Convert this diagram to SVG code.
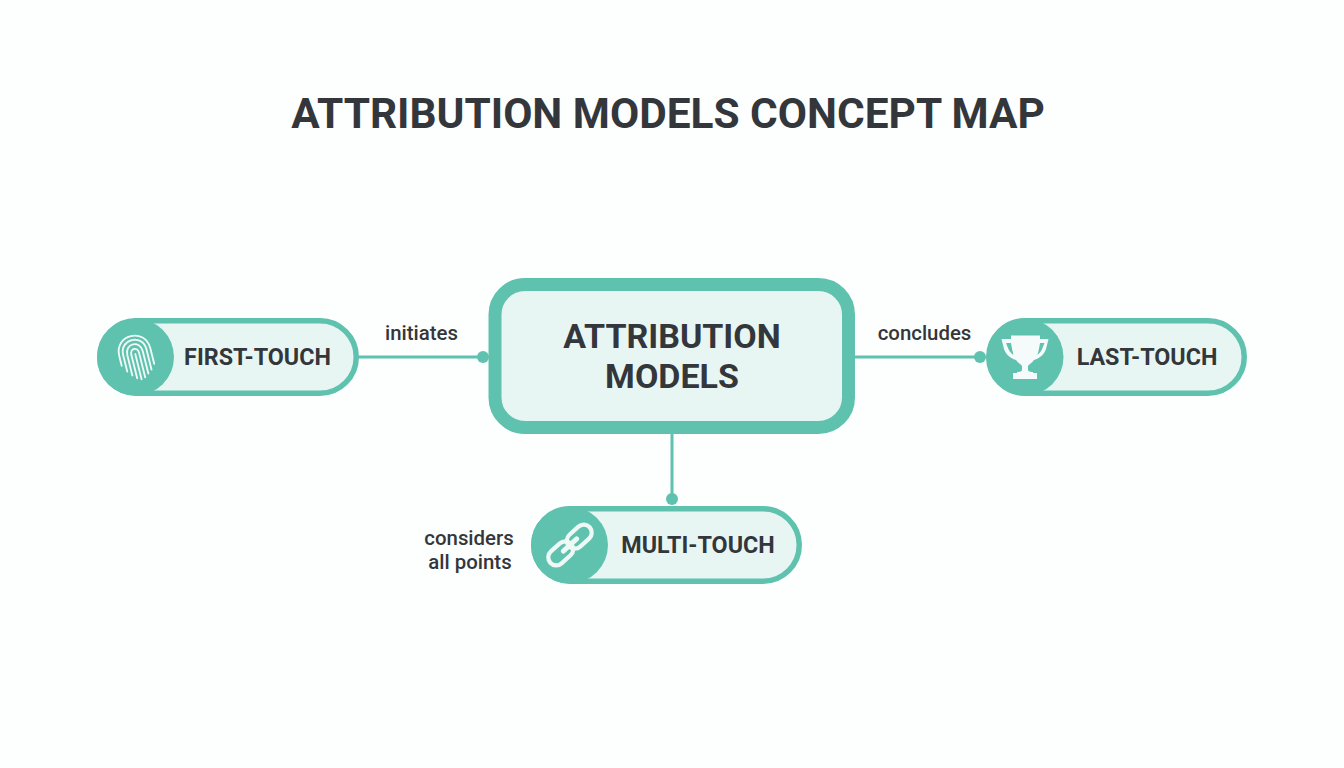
<svg xmlns="http://www.w3.org/2000/svg" width="1344" height="768" viewBox="0 0 1344 768">
<style>
text{font-family:Roboto,"Liberation Sans",sans-serif;fill:#33373b;text-anchor:middle}
.title{font-size:42.400px;font-weight:700}
.main{font-size:34px;font-weight:700}
.pill{font-size:23.300px;font-weight:700}
.lab{font-size:20.400px;font-weight:500}
.pillbody{fill:#e8f6f3;stroke:#5fc2ae;stroke-width:5.500}
.disc{fill:#5fc2ae}
.line{stroke:#5fc2ae;stroke-width:3;fill:none}
.dot{fill:#5fc2ae}
.ic{fill:none;stroke:#eef9f6;stroke-linecap:round}
</style>
<rect width="1344" height="768" fill="#fdfefe"/>
<text class="title" x="668" y="128">ATTRIBUTION MODELS CONCEPT MAP</text>
<g id="connectors">
<path class="line" d="M358 357H484"/><circle class="dot" cx="483" cy="357" r="6"/>
<path class="line" d="M855 357H981"/><circle class="dot" cx="980" cy="357" r="6"/>
<path class="line" d="M672 434V499"/><circle class="dot" cx="672" cy="499" r="6"/>
</g>
<g id="node-center">
<rect x="495" y="284.500" width="353.500" height="143" rx="30" fill="#e8f6f3" stroke="#5fc2ae" stroke-width="13"/>
<text class="main" x="672" y="348">ATTRIBUTION</text>
<text class="main" x="672" y="388">MODELS</text>
</g>
<g id="node-first-touch">
<rect class="pillbody" x="99.750" y="320.750" width="256.500" height="72.500" rx="36.250"/>
<circle class="disc" cx="135.500" cy="357" r="38.500"/>
<g class="ic" stroke-width="1.900" transform="rotate(-14 136 357)">
<path d="M120 362V352C120 330 152 330 152 352V368"/>
<path d="M124 369V352C124 335.500 148 335.500 148 352V373"/>
<path d="M128 374V353C128 341 144 341 144 353V376"/>
<path d="M132 378V354C132 347 140 347 140 354V379"/>
<path d="M136 354V380"/>
</g>
<text class="pill" x="257.500" y="365">FIRST-TOUCH</text>
</g>
<g id="node-last-touch">
<rect class="pillbody" x="988.750" y="320.750" width="255.500" height="72.500" rx="36.250"/>
<circle class="disc" cx="1025" cy="357" r="38.500"/>
<path fill="#f4fbfa" d="M1011 335.500H1040V339H1048.500L1046 349C1044.500 354 1040 358 1034 360C1032 363 1029 364 1028 366V370C1028 371 1030 372 1032 372H1033V373H1037V379H1013V373H1017V372H1018C1020 372 1022 371 1022 370V366C1021 364 1018 363 1016 360C1010 358 1005.500 354 1004 349L1001.500 339H1011ZM1006 343L1008 348C1009 351 1011 353 1013.500 355C1012.500 351 1011.500 347 1011 343ZM1044.500 343H1040C1039.500 347 1038.500 351 1037.500 355C1039.500 353 1041.500 351 1042.500 348Z"/>
<text class="pill" x="1147" y="365">LAST-TOUCH</text>
</g>
<g id="node-multi-touch">
<rect class="pillbody" x="533.750" y="508.750" width="265.500" height="72.500" rx="36.250"/>
<circle class="disc" cx="569.500" cy="545" r="38.500"/>
<g class="ic" stroke-width="4.200" transform="rotate(-42 570 545)">
<rect x="543.500" y="537" width="28" height="16" rx="8"/>
<rect x="568.500" y="537" width="28" height="16" rx="8"/>
<path d="M561 545H579" stroke-width="5"/>
</g>
<text class="pill" x="698" y="553">MULTI-TOUCH</text>
</g>
<g id="labels">
<text class="lab" x="421.500" y="340">initiates</text>
<text class="lab" x="924.500" y="340">concludes</text>
<text class="lab" x="469" y="545">considers</text>
<text class="lab" x="470" y="569">all points</text>
</g>
</svg>
